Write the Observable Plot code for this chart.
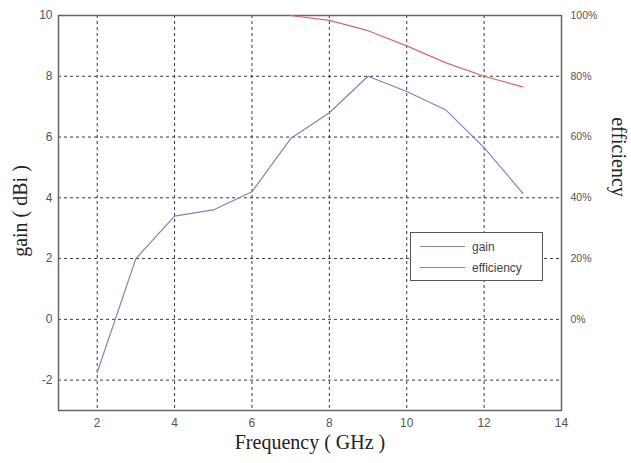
<!DOCTYPE html>
<html><head><meta charset="utf-8">
<script src="https://cdn.jsdelivr.net/npm/d3@7"></script>
<script src="https://cdn.jsdelivr.net/npm/@observablehq/plot@0.6"></script>
<style>
body{margin:0;background:#fff;}
#wrap{position:relative;width:631px;height:463px;}
#legend{position:absolute;left:410px;top:232px;width:133px;height:49px;border:1.5px solid #555;background:#fff;font:12px Arial,"Liberation Sans",sans-serif;color:#444;box-sizing:border-box;padding-top:3px}
.row{display:flex;align-items:center;height:21px}
.sw{display:inline-block;width:45px;height:0;margin-left:9px;margin-right:7px;border-top:1.5px solid}
</style></head><body><div id="wrap"></div>
<script>
const freq = [2,3,4,5,6,7,8,9,10,11,12,13];
const gain = [-1.75,2.0,3.4,3.6,4.2,5.95,6.8,8.0,7.5,6.9,5.65,4.15];
const effFreq = [7,8,9,10,11,12,13];
const efficiency = [100,98.4,95,90,84.5,80,76.5];
const xTicks = [2,4,6,8,10,12,14];
const yTicks = [-2,0,2,4,6,8,10];
const effTicks = [0,20,40,60,80,100];
const seriesNames = ["gain","efficiency"];
const seriesColors = ["#8080c8","#e06565"];

const gainData = freq.map((f,i)=>({f, v: gain[i]}));
const effData = effFreq.map((f,i)=>({f, v: efficiency[i]/10}));
const serif = "'Liberation Serif','DejaVu Serif',serif";

const chart = Plot.plot({
  width: 631, height: 463,
  marginLeft: 58, marginRight: 70, marginTop: 15, marginBottom: 53,
  style: {fontFamily: "Arial, 'Liberation Sans', sans-serif", fontSize: "12px", color: "#555", background: "#fff"},
  x: {domain: [1,14], ticks: xTicks, label: null},
  y: {domain: [-3,10], ticks: yTicks, label: null},
  marks: [
    Plot.gridX(xTicks.slice(0,-1), {stroke: "#222", strokeOpacity: 0.9, strokeDasharray: "3,3"}),
    Plot.gridY(yTicks, {stroke: "#222", strokeOpacity: 0.9, strokeDasharray: "3,3"}),
    Plot.frame({stroke: "#666", strokeWidth: 1.5}),
    Plot.axisX(xTicks, {tickSize: 0, tickPadding: 8, fontSize: 12, tickFormat: d => String(d)}),
    Plot.axisY(yTicks, {tickSize: 0, tickPadding: 6, fontSize: 12, tickFormat: d => String(d)}),
    Plot.axisY(effTicks.map(p=>p/10), {anchor: "right", tickSize: 0, tickPadding: 9, fontSize: 10.5, tickFormat: d => Math.round(d*10) + "%"}),
    Plot.line(gainData, {x: "f", y: "v", stroke: seriesColors[0], strokeWidth: 1.2}),
    Plot.line(effData, {x: "f", y: "v", stroke: seriesColors[1], strokeWidth: 1.2}),
    Plot.text(["gain ( dBi )"], {frameAnchor: "left", textAnchor: "middle", lineAnchor: "middle", dx: -38, dy: -2, rotate: -90, fontSize: 20, fontFamily: serif, fill: "#222"}),
    Plot.text(["efficiency"], {frameAnchor: "right", textAnchor: "middle", lineAnchor: "middle", dx: 57, dy: -56, rotate: 90, fontSize: 20, fontFamily: serif, fill: "#222"}),
    Plot.text(["Frequency ( GHz )"], {frameAnchor: "bottom", textAnchor: "middle", lineAnchor: "middle", dy: 32, fontSize: 20, fontFamily: serif, fill: "#222"})
  ]
});
const wrap = document.getElementById("wrap");
wrap.appendChild(chart);
const legend = document.createElement("div");
legend.id = "legend";
seriesNames.forEach((n,i)=>{
  const r = document.createElement("div"); r.className = "row";
  const s = document.createElement("span"); s.className = "sw"; s.style.borderTopColor = seriesColors[i];
  const t = document.createElement("span"); t.textContent = n;
  r.appendChild(s); r.appendChild(t); legend.appendChild(r);
});
wrap.appendChild(legend);
</script></body></html>
